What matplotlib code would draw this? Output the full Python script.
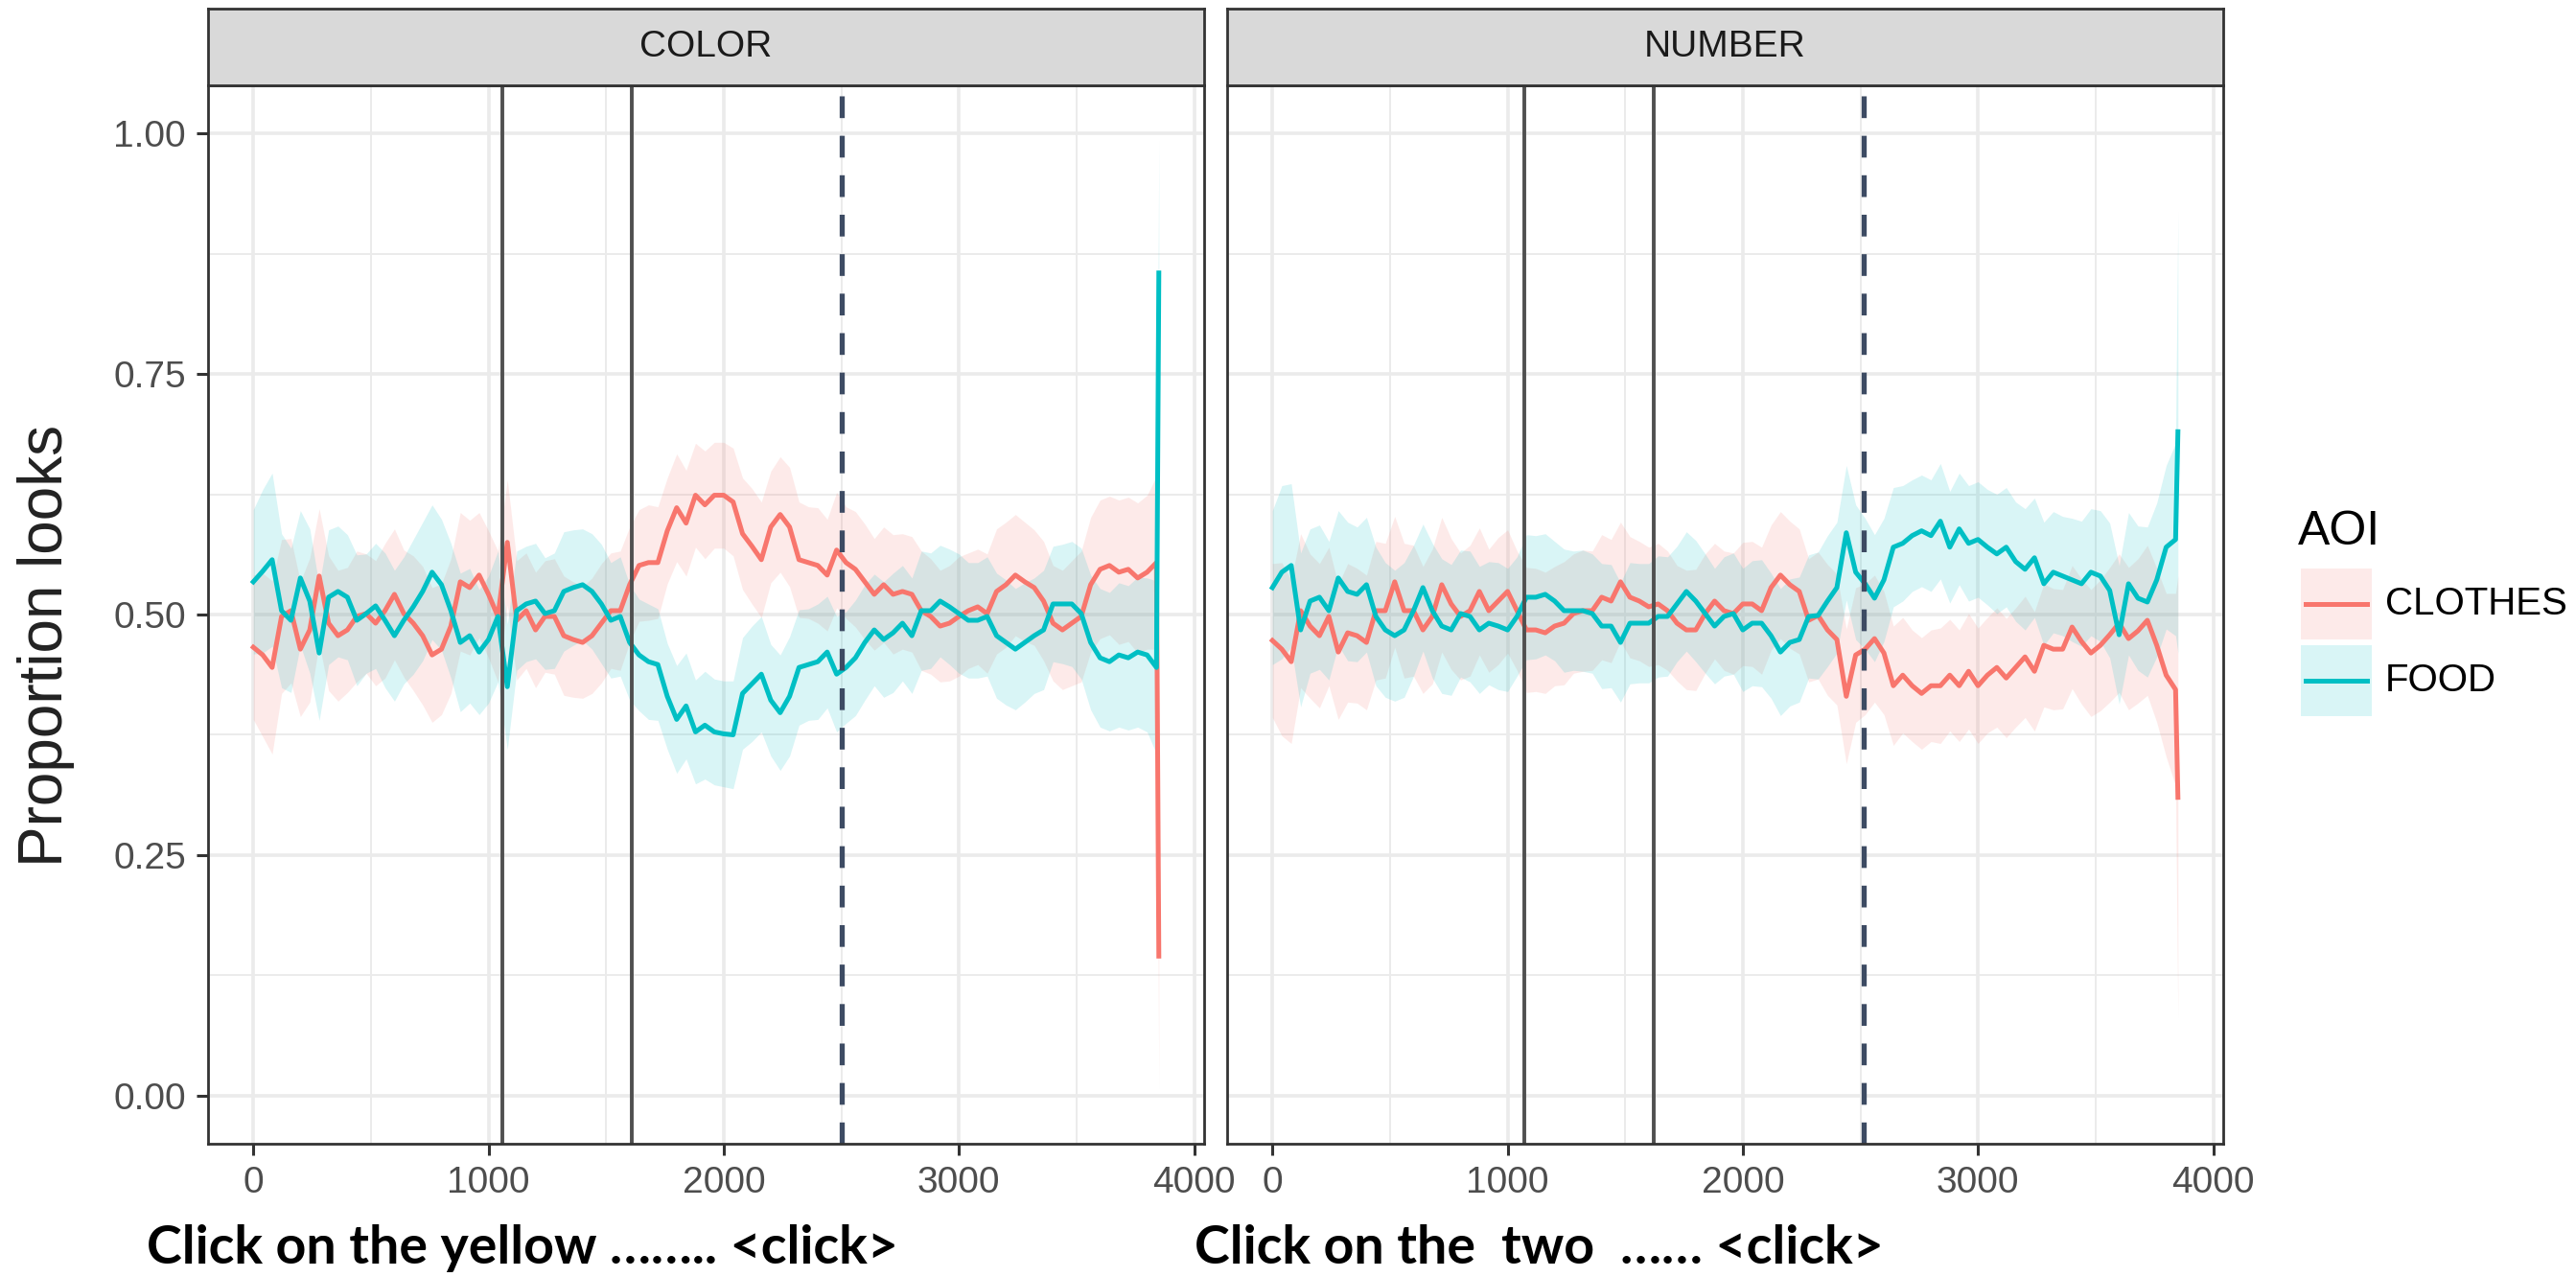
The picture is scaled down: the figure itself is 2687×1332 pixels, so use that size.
import numpy as np
import matplotlib
matplotlib.use("Agg")
import matplotlib.pyplot as plt
from matplotlib.patches import Rectangle
from matplotlib.lines import Line2D

# ---------------- data ----------------
TIME_MS = list(range(0, 3841, 40)) + [3850]

COLOR_CLOTHES = [
    0.466, 0.458, 0.445, 0.498, 0.504, 0.464, 0.484, 0.540, 0.491, 0.478,
    0.484, 0.498, 0.501, 0.491, 0.504, 0.521, 0.501, 0.491, 0.478, 0.458,
    0.464, 0.488, 0.534, 0.528, 0.541, 0.521, 0.498, 0.575, 0.494, 0.504,
    0.484, 0.498, 0.498, 0.478, 0.474, 0.471, 0.478, 0.491, 0.504, 0.504,
    0.531, 0.551, 0.554, 0.554, 0.587, 0.611, 0.595, 0.624, 0.614, 0.624,
    0.624, 0.617, 0.584, 0.571, 0.557, 0.591, 0.604, 0.591, 0.557, 0.554,
    0.551, 0.541, 0.567, 0.554, 0.547, 0.534, 0.521, 0.531, 0.521, 0.524,
    0.521, 0.504, 0.498, 0.488, 0.491, 0.498, 0.504, 0.508, 0.501, 0.524,
    0.531, 0.541, 0.534, 0.528, 0.514, 0.491, 0.484, 0.491, 0.498, 0.531,
    0.547, 0.551, 0.544, 0.547, 0.538, 0.544, 0.554,
    0.145,
]
COLOR_FOOD = [
    0.534, 0.545, 0.557, 0.504, 0.494, 0.538, 0.514, 0.460, 0.518, 0.524,
    0.518, 0.494, 0.501, 0.509, 0.494, 0.478, 0.494, 0.508, 0.524, 0.544,
    0.531, 0.504, 0.471, 0.478, 0.461, 0.474, 0.498, 0.425, 0.504, 0.511,
    0.514, 0.501, 0.504, 0.524, 0.528, 0.531, 0.524, 0.511, 0.494, 0.498,
    0.471, 0.458, 0.451, 0.448, 0.415, 0.391, 0.405, 0.378, 0.385, 0.378,
    0.376, 0.375, 0.418, 0.428, 0.438, 0.411, 0.398, 0.415, 0.445, 0.448,
    0.451, 0.461, 0.438, 0.445, 0.455, 0.471, 0.484, 0.474, 0.481, 0.491,
    0.478, 0.504, 0.504, 0.514, 0.508, 0.501, 0.494, 0.494, 0.498, 0.478,
    0.471, 0.464, 0.471, 0.478, 0.484, 0.511, 0.511, 0.511, 0.501, 0.471,
    0.455, 0.451, 0.458, 0.455, 0.461, 0.458, 0.445,
    0.855,
]
COLOR_CI = [
    0.075, 0.085, 0.090, 0.080, 0.075, 0.070, 0.075, 0.070, 0.070, 0.068,
    0.065, 0.068, 0.062, 0.065, 0.070, 0.068, 0.066, 0.070, 0.072, 0.070,
    0.068, 0.070, 0.072, 0.070, 0.065, 0.066, 0.068, 0.065, 0.062, 0.060,
    0.060, 0.058, 0.060, 0.062, 0.060, 0.058, 0.060, 0.062, 0.060, 0.062,
    0.060, 0.058, 0.060, 0.058, 0.055, 0.056, 0.055, 0.054, 0.056, 0.055,
    0.055, 0.056, 0.058, 0.060, 0.060, 0.058, 0.060, 0.062, 0.060, 0.058,
    0.060, 0.058, 0.060, 0.058, 0.060, 0.060, 0.058, 0.060, 0.062, 0.060,
    0.060, 0.062, 0.060, 0.058, 0.060, 0.062, 0.060, 0.060, 0.062, 0.065,
    0.065, 0.063, 0.062, 0.060, 0.062, 0.060, 0.062, 0.065, 0.068, 0.070,
    0.072, 0.072, 0.075, 0.075, 0.078, 0.080, 0.090,
    0.140,
]

NUMBER_CLOTHES = [
    0.473, 0.464, 0.451, 0.504, 0.488, 0.478, 0.498, 0.461, 0.481, 0.478,
    0.471, 0.504, 0.504, 0.534, 0.504, 0.504, 0.484, 0.498, 0.531, 0.511,
    0.498, 0.504, 0.524, 0.504, 0.514, 0.524, 0.504, 0.484, 0.484, 0.481,
    0.488, 0.491, 0.501, 0.504, 0.504, 0.518, 0.514, 0.534, 0.518, 0.514,
    0.508, 0.511, 0.504, 0.491, 0.484, 0.484, 0.501, 0.514, 0.504, 0.501,
    0.511, 0.511, 0.504, 0.528, 0.541, 0.531, 0.524, 0.494, 0.499, 0.484,
    0.474, 0.415, 0.458, 0.464, 0.475, 0.460, 0.426, 0.437, 0.426, 0.418,
    0.426, 0.426, 0.437, 0.426, 0.441, 0.426, 0.437, 0.445, 0.434, 0.445,
    0.456, 0.441, 0.468, 0.464, 0.464, 0.487, 0.472, 0.460, 0.468, 0.479,
    0.491, 0.475, 0.483, 0.494, 0.468, 0.437, 0.422,
    0.310,
]
NUMBER_FOOD = [
    0.528, 0.544, 0.551, 0.484, 0.514, 0.518, 0.504, 0.538, 0.524, 0.521,
    0.531, 0.498, 0.484, 0.478, 0.484, 0.504, 0.528, 0.504, 0.488, 0.484,
    0.501, 0.498, 0.484, 0.491, 0.488, 0.484, 0.498, 0.518, 0.518, 0.521,
    0.514, 0.504, 0.504, 0.504, 0.501, 0.488, 0.488, 0.471, 0.491, 0.491,
    0.491, 0.498, 0.498, 0.511, 0.524, 0.514, 0.501, 0.488, 0.498, 0.501,
    0.484, 0.491, 0.491, 0.478, 0.461, 0.471, 0.474, 0.498, 0.499, 0.514,
    0.528, 0.585, 0.544, 0.532, 0.517, 0.536, 0.570, 0.574, 0.582, 0.587,
    0.582, 0.597, 0.570, 0.589, 0.574, 0.578, 0.570, 0.563, 0.570, 0.555,
    0.547, 0.559, 0.532, 0.544, 0.540, 0.536, 0.532, 0.544, 0.540, 0.525,
    0.479, 0.532, 0.517, 0.513, 0.536, 0.570, 0.578,
    0.690,
]
NUMBER_CI = [
    0.080, 0.090, 0.085, 0.080, 0.075, 0.075, 0.072, 0.070, 0.072, 0.070,
    0.070, 0.072, 0.070, 0.068, 0.070, 0.068, 0.066, 0.070, 0.070, 0.068,
    0.066, 0.068, 0.066, 0.064, 0.066, 0.064, 0.062, 0.065, 0.064, 0.063,
    0.062, 0.064, 0.062, 0.063, 0.062, 0.065, 0.064, 0.062, 0.063, 0.062,
    0.062, 0.063, 0.062, 0.060, 0.062, 0.063, 0.062, 0.060, 0.062, 0.063,
    0.064, 0.065, 0.066, 0.065, 0.066, 0.066, 0.065, 0.064, 0.066, 0.068,
    0.068, 0.070, 0.070, 0.068, 0.066, 0.064, 0.062, 0.060, 0.058, 0.058,
    0.058, 0.060, 0.058, 0.058, 0.060, 0.060, 0.060, 0.062, 0.062, 0.062,
    0.063, 0.062, 0.064, 0.063, 0.062, 0.064, 0.065, 0.066, 0.068, 0.070,
    0.072, 0.074, 0.075, 0.078, 0.080, 0.085, 0.100,
    0.230,
]

PANELS = ["COLOR", "NUMBER"]
AOI_LEVELS = ["CLOTHES", "FOOD"]
AOI_COLORS = ["#F8766D", "#00BFC4"]
SERIES = {
    "COLOR": {"CLOTHES": COLOR_CLOTHES, "FOOD": COLOR_FOOD},
    "NUMBER": {"CLOTHES": NUMBER_CLOTHES, "FOOD": NUMBER_FOOD},
}
CI_HALF = {"COLOR": COLOR_CI, "NUMBER": NUMBER_CI}
ONSETS_SOLID = {"COLOR": [1057, 1608], "NUMBER": [1073, 1622]}
ONSET_DASHED = {"COLOR": 2500, "NUMBER": 2516}
X_TICKS = [0, 1000, 2000, 3000, 4000]
X_MINOR = [500, 1500, 2500, 3500]
Y_TICKS = [0.00, 0.25, 0.50, 0.75, 1.00]
Y_MINOR = [0.125, 0.375, 0.625, 0.875]
Y_TICK_LABELS = ["0.00", "0.25", "0.50", "0.75", "1.00"]
CAPTIONS = ["Click on the yellow \u2026\u2026.. <click>",
            "Click on the  two  \u2026\u2026 <click>"]
Y_LABEL = "Proportion looks"
LEGEND_TITLE = "AOI"

# ---------------- layout ----------------
plt.rcParams["font.family"] = ["Liberation Sans", "DejaVu Sans"]
W, H, DPI = 2687, 1332, 200
fig = plt.figure(figsize=(W / DPI, H / DPI), dpi=DPI)
fig.patch.set_facecolor("white")


def fx(px):
    return px / W


def fy(py):
    return 1 - py / H


PANEL_LEFT = [217, 1280]
PANEL_W = 1039
PANEL_TOP, PANEL_BOT = 89, 1193
STRIP_TOP = 9
BORDER = "#333333"
GRID = "#EBEBEB"
LINE_W = 1.8

t = np.array(TIME_MS, dtype=float)
t_rng = t.max() - t.min()
xlim = (t.min() - 0.05 * t_rng, t.max() + 0.05 * t_rng)

for i, panel in enumerate(PANELS):
    left = PANEL_LEFT[i]
    ax = fig.add_axes([fx(left), fy(PANEL_BOT), PANEL_W / W,
                       (PANEL_BOT - PANEL_TOP) / H])
    hw = np.array(CI_HALF[panel])
    for aoi, col in zip(AOI_LEVELS, AOI_COLORS):
        y = np.array(SERIES[panel][aoi])
        ax.fill_between(t, y - hw, y + hw, color=col, alpha=0.15,
                        linewidth=0, zorder=2)
    for aoi, col in zip(AOI_LEVELS, AOI_COLORS):
        y = np.array(SERIES[panel][aoi])
        ax.plot(t, y, color=col, lw=LINE_W, zorder=3,
                solid_joinstyle="round")
    for xv in ONSETS_SOLID[panel]:
        ax.axvline(xv, color="#505050", lw=1.4, zorder=4)
    ax.axvline(ONSET_DASHED[panel], color="#3D4B63", lw=1.9,
               dashes=(4.3, 3.5), zorder=4)

    ax.set_xlim(*xlim)
    ax.set_ylim(-0.05, 1.05)
    ax.set_xticks(X_TICKS)
    ax.set_xticks(X_MINOR, minor=True)
    ax.set_yticks(Y_TICKS)
    ax.set_yticks(Y_MINOR, minor=True)
    ax.set_yticklabels(Y_TICK_LABELS)
    ax.set_axisbelow(True)
    ax.grid(which="major", color=GRID, lw=1.3)
    ax.grid(which="minor", color=GRID, lw=0.7)
    ax.tick_params(which="minor", length=0)
    ax.tick_params(which="major", length=4.3, width=1.1, color=BORDER,
                   labelsize=14, labelcolor="#4D4D4D", pad=4)
    if i > 0:
        ax.tick_params(axis="y", which="both", left=False, labelleft=False)
    for sp in ax.spines.values():
        sp.set_color(BORDER)
        sp.set_linewidth(1.0)
        sp.set_zorder(5)

    sax = fig.add_axes([fx(left), fy(PANEL_TOP), PANEL_W / W,
                        (PANEL_TOP - STRIP_TOP) / H])
    sax.set_facecolor("#D9D9D9")
    sax.set_xticks([])
    sax.set_yticks([])
    for sp in sax.spines.values():
        sp.set_color(BORDER)
        sp.set_linewidth(1.0)
    sax.text(0.5, 0.5, panel, ha="center", va="center", fontsize=14,
             color="#1A1A1A", transform=sax.transAxes)

# y label
fig.text(fx(48), fy(673), Y_LABEL, rotation=90, ha="center", va="center",
         fontsize=23, color="#222222")

# captions
for x0, cap in zip([153, 1246], CAPTIONS):
    fig.text(fx(x0), fy(1318), cap, ha="left", va="baseline",
             family=["Lato", "DejaVu Sans"], weight="bold", fontsize=20,
             color="black")

# legend (ggplot-style keys: ribbon fill square + line)
fig.text(fx(2397), fy(568), LEGEND_TITLE, ha="left", va="baseline",
         fontsize=18, color="black")
key_tops = [593, 673]
for (aoi, col), ktop in zip(zip(AOI_LEVELS, AOI_COLORS), key_tops):
    fig.add_artist(Rectangle((fx(2400), fy(ktop + 74)), 74 / W, 74 / H,
                             transform=fig.transFigure, facecolor=col,
                             alpha=0.15, edgecolor="none"))
    yc = ktop + 37
    fig.add_artist(Line2D([fx(2405), fx(2469)], [fy(yc), fy(yc)],
                          transform=fig.transFigure, color=col, lw=LINE_W))
    fig.text(fx(2488), fy(yc), aoi, ha="left", va="center", fontsize=14.5,
             color="black")

fig.savefig("out.png", dpi=DPI)
